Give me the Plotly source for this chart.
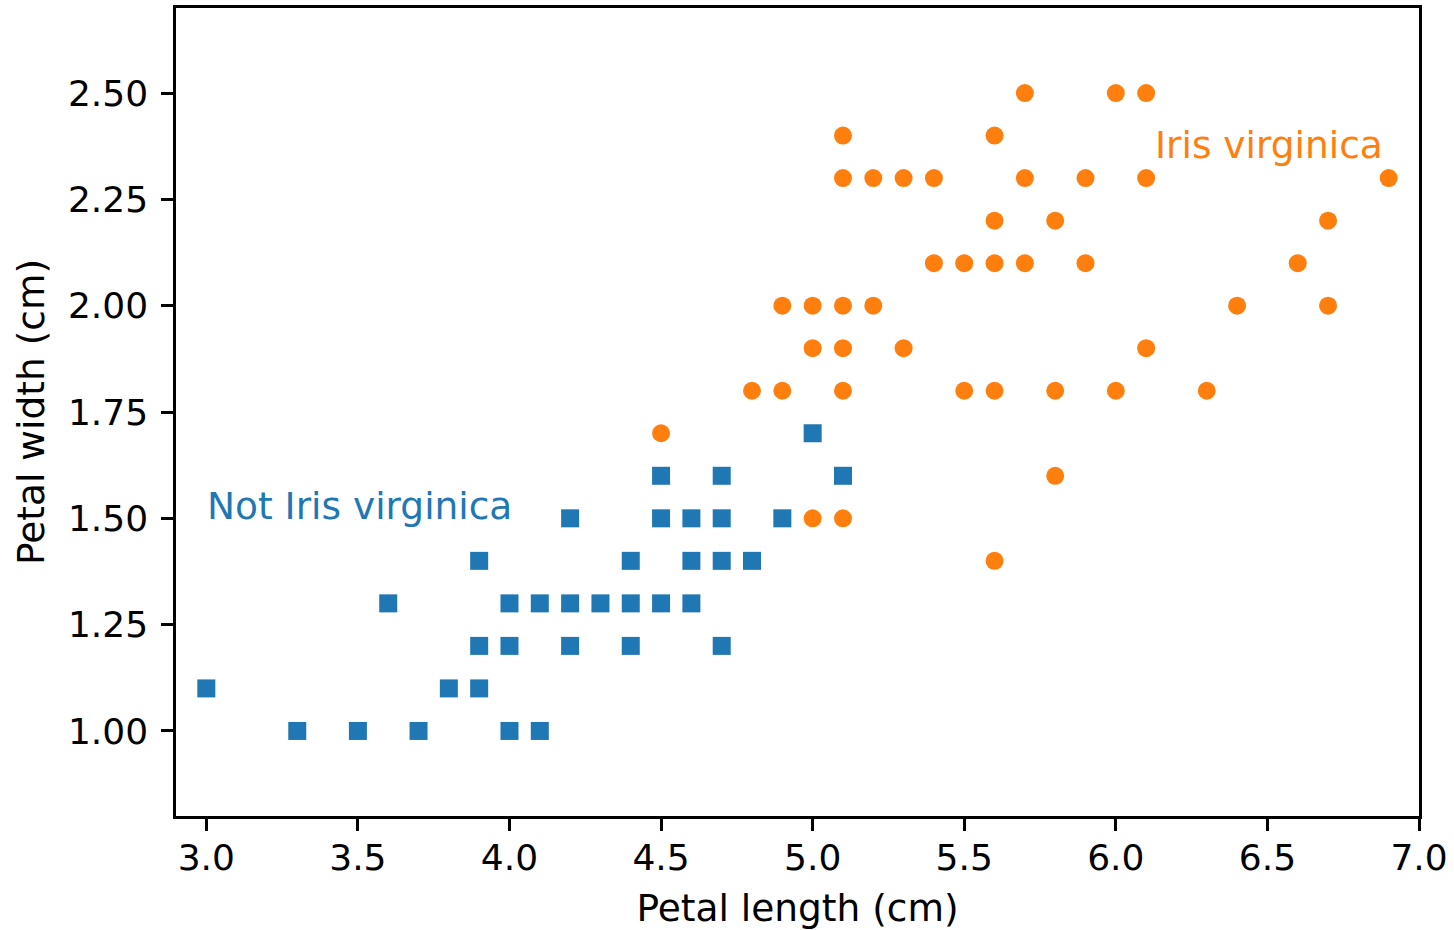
import plotly.graph_objects as go

# Not Iris virginica (versicolor): petal length, petal width
not_len = [3.3, 3.5, 3.7, 4.0, 4.1,
           3.0, 3.8, 3.9,
           3.9, 4.0, 4.2, 4.4, 4.7,
           3.6, 4.0, 4.1, 4.2, 4.3, 4.4, 4.5, 4.6,
           3.9, 4.4, 4.6, 4.7, 4.8,
           4.2, 4.5, 4.6, 4.7, 4.9,
           4.5, 4.7, 5.1,
           5.0]
not_wid = [1.0, 1.0, 1.0, 1.0, 1.0,
           1.1, 1.1, 1.1,
           1.2, 1.2, 1.2, 1.2, 1.2,
           1.3, 1.3, 1.3, 1.3, 1.3, 1.3, 1.3, 1.3,
           1.4, 1.4, 1.4, 1.4, 1.4,
           1.5, 1.5, 1.5, 1.5, 1.5,
           1.6, 1.6, 1.6,
           1.7]

# Iris virginica
vir_len = [5.6,
           5.0, 5.1,
           5.8,
           4.5,
           4.8, 4.9, 5.1, 5.5, 5.6, 5.8, 6.0, 6.3,
           5.0, 5.1, 5.3, 6.1,
           4.9, 5.0, 5.1, 5.2, 6.4, 6.7,
           5.4, 5.5, 5.6, 5.7, 5.9, 6.6,
           5.6, 5.8, 6.7,
           5.1, 5.2, 5.3, 5.4, 5.7, 5.9, 6.1, 6.9,
           5.1, 5.6,
           5.7, 6.0, 6.1]
vir_wid = [1.4,
           1.5, 1.5,
           1.6,
           1.7,
           1.8, 1.8, 1.8, 1.8, 1.8, 1.8, 1.8, 1.8,
           1.9, 1.9, 1.9, 1.9,
           2.0, 2.0, 2.0, 2.0, 2.0, 2.0,
           2.1, 2.1, 2.1, 2.1, 2.1, 2.1,
           2.2, 2.2, 2.2,
           2.3, 2.3, 2.3, 2.3, 2.3, 2.3, 2.3, 2.3,
           2.4, 2.4,
           2.5, 2.5, 2.5]

x_ticks = [3.0, 3.5, 4.0, 4.5, 5.0, 5.5, 6.0, 6.5, 7.0]
y_ticks = [1.00, 1.25, 1.50, 1.75, 2.00, 2.25, 2.50]

BLUE = "#1f77b4"
ORANGE = "#ff7f0e"
FONT = "DejaVu Sans"
FS = 36
FS_LABEL = 37.5

fig = go.Figure()
fig.add_trace(go.Scatter(x=not_len, y=not_wid, mode="markers",
                         marker=dict(symbol="square", size=18, color=BLUE, line=dict(width=0)),
                         name="Not Iris virginica", showlegend=False))
fig.add_trace(go.Scatter(x=vir_len, y=vir_wid, mode="markers",
                         marker=dict(symbol="circle", size=18, color=ORANGE, line=dict(width=0)),
                         name="Iris virginica", showlegend=False))

fig.add_annotation(x=6.127, y=2.378, text="Iris virginica", showarrow=False,
                   xanchor="left", yanchor="middle", borderpad=0,
                   font=dict(family=FONT, size=FS_LABEL, color=ORANGE))
fig.add_annotation(x=3.0, y=1.528, text="Not Iris virginica", showarrow=False,
                   xanchor="left", yanchor="middle", borderpad=0,
                   font=dict(family=FONT, size=FS_LABEL, color=BLUE))

axis_common = dict(showline=True, linecolor="black", linewidth=2.5, mirror=True,
                   ticks="outside", ticklen=12, tickwidth=2.5, tickcolor="black",
                   showgrid=False, zeroline=False,
                   tickfont=dict(family=FONT, size=FS, color="black"))

fig.update_xaxes(range=[2.9, 7.0], tickvals=x_ticks,
                 ticktext=[f"{v:.1f}" for v in x_ticks], ticklabelstandoff=-4,
                 title=dict(text="Petal length (cm)", font=dict(family=FONT, size=FS_LABEL, color="black"), standoff=18),
                 **axis_common)
fig.update_yaxes(range=[0.8, 2.7], tickvals=y_ticks,
                 ticktext=[f"{v:.2f}" for v in y_ticks], ticklabelstandoff=6,
                 title=dict(text="Petal width (cm)", font=dict(family=FONT, size=FS_LABEL, color="black"), standoff=12),
                 **axis_common)

fig.update_layout(width=1454, height=930,
                  margin=dict(l=176, r=35, t=8, b=114, autoexpand=False),
                  plot_bgcolor="white", paper_bgcolor="white",
                  font=dict(family=FONT, size=FS, color="black"))

fig.write_html("out.html", config={"displayModeBar": False},
               post_script="document.body.style.margin='0';")
